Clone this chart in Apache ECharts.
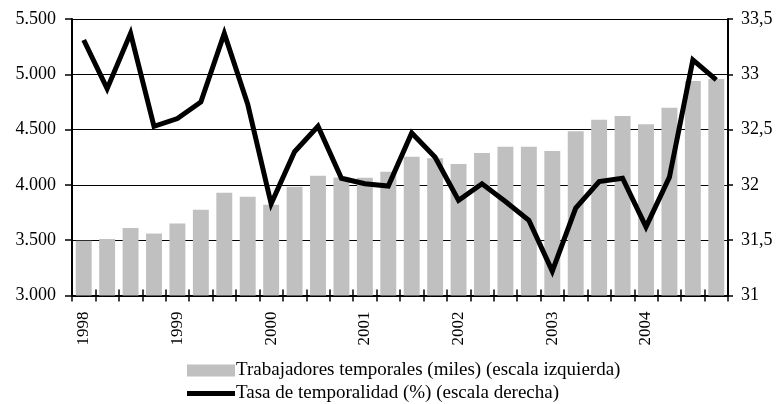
<!DOCTYPE html>
<html>
<head>
<meta charset="utf-8">
<script src="https://cdn.jsdelivr.net/npm/echarts@6/dist/echarts.min.js"></script>
<style>
html,body{margin:0;padding:0;background:#fff;}
#chart{width:780px;height:404px;}
</style>
</head>
<body>
<div id="chart"></div>
<script>
const years = ['1998','1999','2000','2001','2002','2003','2004'];
const quarters = ['I','II','III','IV'];
const temporaryWorkers = [3495,3510,3611,3560,3650,3776,3930,3893,3821,3984,4083,4068,4065,4119,4254,4240,4188,4288,4345,4345,4306,4486,4588,4622,4549,4697,4940,4958];
const temporalityRate = [33.31,32.87,33.37,32.53,32.60,32.75,33.37,32.73,31.83,32.30,32.53,32.06,32.01,31.99,32.47,32.25,31.86,32.01,31.85,31.68,31.22,31.79,32.03,32.06,31.62,32.07,33.13,32.95];
const leftTicks = {min:3000, max:5500, interval:500};
const rightTicks = {min:31, max:33.5, interval:0.5};
const seriesNames = ['Trabajadores temporales (miles) (escala izquierda)','Tasa de temporalidad (%) (escala derecha)'];

const categories = [];
years.forEach(y => quarters.forEach(q => categories.push(y + ' ' + q)));

const FONT = '"Liberation Serif", "DejaVu Serif", serif';
const chart = echarts.init(document.getElementById('chart'));
const fmtLeft = v => String(v).replace(/\B(?=(\d{3})+(?!\d))/g, '.');
const fmtRight = v => String(v).replace('.', ',');

chart.setOption({
  animation:false,
  backgroundColor:'#fff',
  grid:{left:72, right:52, top:19, bottom:108.5, containLabel:false},
  legend:{
    orient:'vertical', left:182, top:355.5, height:47,
    itemWidth:48, itemHeight:12, itemGap:3,
    textStyle:{fontFamily:FONT, fontSize:19, lineHeight:20, color:'#000', padding:[0,0,0,-4]},
    data:[
      {name:seriesNames[0], icon:'rect'},
      {name:seriesNames[1], icon:'path://M0,0 M48,12 M0,3.5 L48,3.5 L48,8.5 L0,8.5 Z', itemStyle:{color:'#000'}}
    ]
  },
  xAxis:[{
    type:'category', data:categories, position:'bottom',
    axisLine:{lineStyle:{color:'#000', width:2}},
    axisTick:{show:true, length:6, interval:0, lineStyle:{color:'#000', width:1.5}},
    axisLabel:{interval:0, rotate:90, margin:16, fontFamily:FONT, fontSize:17, color:'#000',
      formatter:(v, i) => (i % 4 === 0 ? v.split(' ')[0] : '')}
  },{
    type:'category', data:categories, position:'bottom',
    axisLine:{show:false},
    axisTick:{show:true, inside:true, length:6, interval:0, lineStyle:{color:'#000', width:1.5}},
    axisLabel:{show:false}
  }],
  yAxis:[{
    type:'value', min:leftTicks.min, max:leftTicks.max, interval:leftTicks.interval,
    axisLine:{show:true, lineStyle:{color:'#000', width:2}},
    axisTick:{show:true, length:7, lineStyle:{color:'#000', width:1.5}},
    axisLabel:{fontFamily:FONT, fontSize:18, color:'#000', margin:16, formatter:fmtLeft},
    splitLine:{show:true, lineStyle:{color:'#000', width:1.2}}
  },{
    type:'value', min:rightTicks.min, max:rightTicks.max, interval:rightTicks.interval,
    position:'right',
    axisLine:{show:true, lineStyle:{color:'#000', width:2}},
    axisTick:{show:true, length:5, lineStyle:{color:'#000', width:1.5}},
    axisLabel:{fontFamily:FONT, fontSize:18, color:'#000', margin:13, formatter:fmtRight},
    splitLine:{show:false}
  }],
  series:[{
    name:seriesNames[0], type:'bar', data:temporaryWorkers, yAxisIndex:0,
    barCategoryGap:'32%', itemStyle:{color:'#c0c0c0'}, z:1
  },{
    name:seriesNames[1], type:'line', data:temporalityRate, yAxisIndex:1,
    symbol:'none', lineStyle:{color:'#000', width:5, join:'miter'}, itemStyle:{color:'#000'}, z:5
  }]
});
</script>
</body>
</html>
